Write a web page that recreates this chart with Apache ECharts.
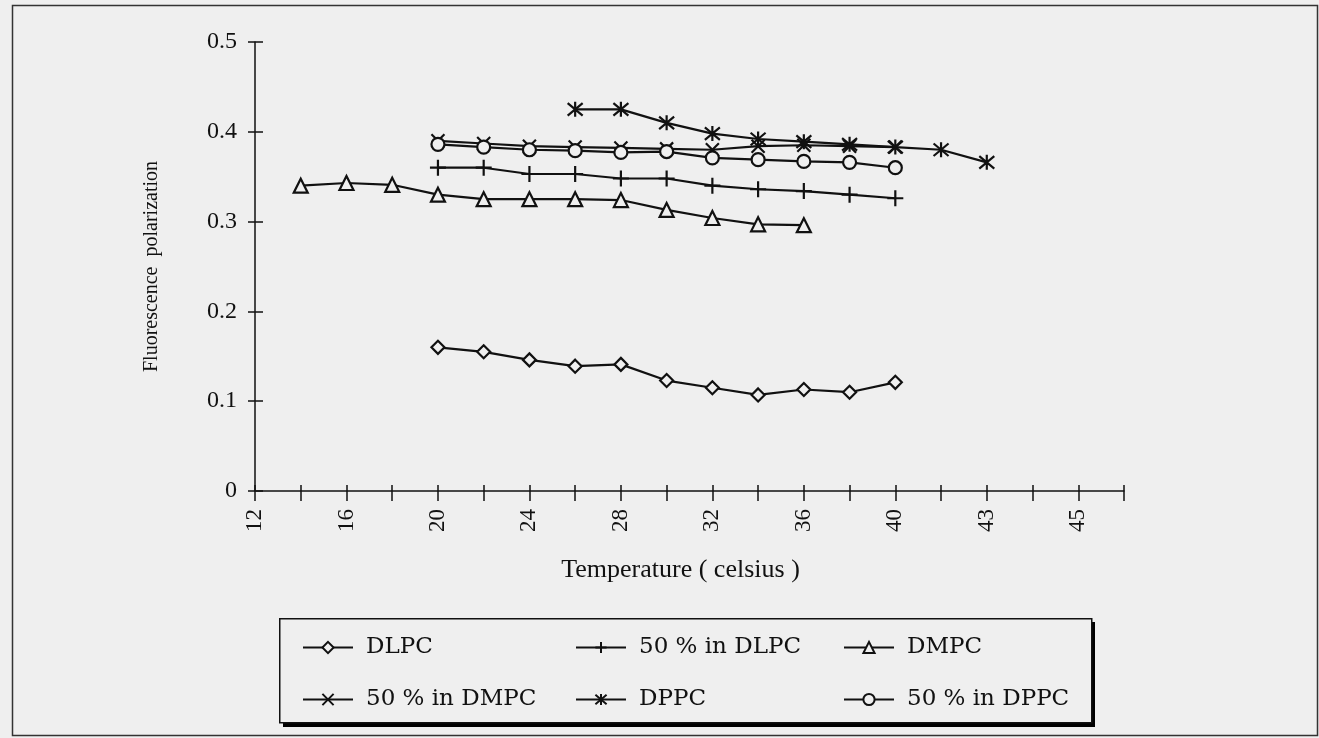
<!DOCTYPE html>
<html><head><meta charset="utf-8">
<script src="https://cdn.jsdelivr.net/npm/echarts@6/dist/echarts.min.js"></script>
<style>html,body{margin:0;padding:0;background:#efefef}#c{width:1319px;height:738px}</style>
</head><body><div id="c"></div>
<script>
// X categories (temperature, celsius); labels shown on every other tick
const temperatures = ['12','14','16','18','20','22','24','26','28','30','32','34','36','38','40','42','43','44','45','46'];
const yTicks = [0, 0.1, 0.2, 0.3, 0.4, 0.5];

const dlpcT = ['20','22','24','26','28','30','32','34','36','38','40'];
const dlpcV = [0.160,0.155,0.146,0.139,0.141,0.123,0.115,0.107,0.113,0.110,0.121];

const dlpc50T = ['20','22','24','26','28','30','32','34','36','38','40'];
const dlpc50V = [0.360,0.360,0.353,0.353,0.348,0.348,0.340,0.336,0.334,0.330,0.326];

const dmpcT = ['14','16','18','20','22','24','26','28','30','32','34','36'];
const dmpcV = [0.340,0.343,0.341,0.330,0.325,0.325,0.325,0.324,0.313,0.304,0.297,0.296];

const dmpc50T = ['20','22','24','26','28','30','32','34','36','38','40'];
const dmpc50V = [0.390,0.387,0.384,0.383,0.382,0.381,0.380,0.384,0.385,0.384,0.383];

const dppcT = ['26','28','30','32','34','36','38','40','42','43'];
const dppcV = [0.425,0.425,0.410,0.398,0.392,0.389,0.386,0.383,0.380,0.366];

const dppc50T = ['20','22','24','26','28','30','32','34','36','38','40'];
const dppc50V = [0.386,0.383,0.380,0.379,0.377,0.378,0.371,0.369,0.367,0.366,0.360];

const names = ['DLPC','50 % in DLPC','DMPC','50 % in DMPC','DPPC','50 % in DPPC'];

const BG = '#efefef';
const INK = '#111';
const SERIF = '"Liberation Serif", "Times New Roman", serif';

const pair = (t, v) => t.map((x, i) => [x, v[i]]);

function mk(name, data, symbol, size) {
  return {
    name, type: 'line', data, symbol, symbolSize: size,
    showAllSymbol: true,
    lineStyle: { color: INK, width: 2.2 },
    itemStyle: { color: BG, borderColor: INK, borderWidth: 2.2 },
    emphasis: { disabled: true },
    animation: false
  };
}

const PLUS = 'path://M0,5L10,5M5,0L5,10';
const CROSS = 'path://M0,0L10,10M10,0L0,10';
const STAR = 'path://M0,0L10,10M10,0L0,10M5,-1L5,11';

function legendCol(left, items) {
  return {
    data: items, left, top: 636, orient: 'vertical', padding: 0,
    itemWidth: 50, itemHeight: 14, itemGap: 29, selectedMode: false,
    textStyle: { fontFamily: '"DejaVu Serif", serif', fontSize: 23, color: INK, padding: [0, 0, 0, 8] }
  };
}

const chart = echarts.init(document.getElementById('c'));
chart.setOption({
  backgroundColor: BG,
  animation: false,
  grid: { left: 255, top: 42, right: 195, bottom: 247, containLabel: false },
  xAxis: [{
    type: 'category', data: temperatures, boundaryGap: false, position: 'bottom',
    name: 'Temperature ( celsius )', nameLocation: 'middle', nameGap: 66,
    nameTextStyle: { fontFamily: SERIF, fontSize: 26, color: INK, padding: [0, 18, 0, 0] },
    axisLine: { lineStyle: { color: INK, width: 1.5 } },
    axisTick: { show: true, interval: 0, length: 10, lineStyle: { color: INK, width: 1.5 } },
    axisLabel: { interval: 1, rotate: 90, margin: 18, fontFamily: SERIF, fontSize: 23, color: INK },
    splitLine: { show: false }
  }, {
    type: 'category', data: temperatures, boundaryGap: false, position: 'bottom',
    axisLine: { show: false },
    axisTick: { show: true, inside: true, interval: 0, length: 6, lineStyle: { color: INK, width: 1.5 } },
    axisLabel: { show: false },
    splitLine: { show: false }
  }],
  yAxis: [{
    type: 'value', min: yTicks[0], max: yTicks[yTicks.length - 1], interval: 0.1, position: 'left',
    name: 'Fluorescence  polarization', nameLocation: 'middle', nameGap: 93,
    nameTextStyle: { fontFamily: SERIF, fontSize: 20, color: INK },
    axisLine: { show: true, lineStyle: { color: INK, width: 1.5 } },
    axisTick: { show: true, length: 7, lineStyle: { color: INK, width: 1.5 } },
    axisLabel: { margin: 18, fontFamily: SERIF, fontSize: 24, color: INK },
    splitLine: { show: false }
  }, {
    type: 'value', min: yTicks[0], max: yTicks[yTicks.length - 1], interval: 0.1, position: 'left',
    axisLine: { show: false },
    axisTick: { show: true, inside: true, length: 8, lineStyle: { color: INK, width: 1.5 } },
    axisLabel: { show: false },
    splitLine: { show: false }
  }],
  legend: [
    legendCol(302, [names[0], names[3]]),
    legendCol(575, [names[1], names[4]]),
    legendCol(843, [names[2], names[5]])
  ],
  graphic: [{
    type: 'rect', left: 10, top: 3, silent: true,
    shape: { width: 1305, height: 730 },
    style: { fill: 'none', stroke: '#333', lineWidth: 1.5 }
  }, {
    type: 'rect', left: 283, top: 622, silent: true, z: 0,
    shape: { width: 812, height: 105 },
    style: { fill: '#000' }
  }, {
    type: 'rect', left: 279, top: 618, silent: true, z: 1,
    shape: { width: 812, height: 104 },
    style: { fill: BG, stroke: INK, lineWidth: 1.5 }
  }],
  series: [
    mk(names[0], pair(dlpcT, dlpcV), 'diamond', 13),
    mk(names[1], pair(dlpc50T, dlpc50V), PLUS, 16),
    mk(names[2], pair(dmpcT, dmpcV), 'triangle', 14),
    mk(names[3], pair(dmpc50T, dmpc50V), CROSS, 13),
    mk(names[4], pair(dppcT, dppcV), STAR, 15),
    mk(names[5], pair(dppc50T, dppc50V), 'circle', 13)
  ]
});
</script>
</body></html>
